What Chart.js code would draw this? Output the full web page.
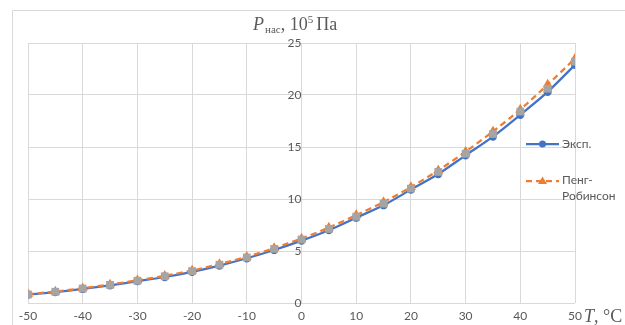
<!DOCTYPE html>
<html><head><meta charset="utf-8">
<script src="https://cdn.jsdelivr.net/npm/chart.js@4"></script>
<style>html,body{margin:0;padding:0;background:#fff;}#wrap{width:625px;height:325px;position:relative;}</style>
</head><body><div id="wrap"><canvas id="c" width="625" height="325"></canvas></div>
<script>
const temps = [-50,-45,-40,-35,-30,-25,-20,-15,-10,-5,0,5,10,15,20,25,30,35,40,45,50];
const expValues = [0.8,1.05,1.35,1.7,2.1,2.5,3.0,3.6,4.3,5.1,6.0,7.0,8.2,9.4,10.9,12.4,14.2,16.0,18.1,20.3,22.9];
const prValues  = [0.85,1.1,1.42,1.78,2.18,2.62,3.12,3.74,4.45,5.28,6.2,7.25,8.45,9.7,11.15,12.75,14.55,16.5,18.6,21.0,23.5];
const markValues= [0.82,1.08,1.39,1.74,2.14,2.57,3.07,3.68,4.38,5.2,6.1,7.12,8.3,9.55,11.0,12.6,14.35,16.25,18.4,20.6,23.2];
const xTicks = [-50,-40,-30,-20,-10,0,10,20,30,40,50];
const yTicks = [0,5,10,15,20,25];
const seriesNames = ['Эксп.', 'Пенг-Робинсон'];

const BLUE='#4472C4', ORANGE='#ED7D31', GRAY='#A5A5A5', TXT='#595959', GRID='#D9D9D9';
const toPts = v => temps.map((t,i)=>({x:t,y:v[i]}));

const deco = {
  id:'deco',
  beforeDraw(chart){
    const ctx=chart.ctx;
    ctx.save();
    ctx.strokeStyle=GRID; ctx.lineWidth=1;
    ctx.beginPath(); ctx.moveTo(12.5,325); ctx.lineTo(12.5,10.5); ctx.lineTo(625,10.5); ctx.stroke();
    ctx.restore();
  },
  afterDraw(chart){
    const ctx=chart.ctx;
    ctx.save();
    ctx.fillStyle=TXT; ctx.textBaseline='alphabetic'; ctx.textAlign='left';
    let x=253, y=30;
    ctx.font='italic 18px "Liberation Serif"'; ctx.fillText('P',x,y); x+=ctx.measureText('P').width+1;
    ctx.font='11px "Liberation Serif"'; ctx.fillText('нас',x,y+3); x+=ctx.measureText('нас').width;
    ctx.font='18px "Liberation Serif"'; ctx.fillText(', 10',x,y); x+=ctx.measureText(', 10').width;
    ctx.font='11px "Liberation Serif"'; ctx.fillText('5',x,y-7); x+=ctx.measureText('5').width+3;
    ctx.font='18px "Liberation Serif"'; ctx.fillText('Па',x,y);
    x=584; y=322;
    ctx.font='italic 18px "Liberation Serif"'; ctx.fillText('T',x,y); x+=ctx.measureText('T').width;
    ctx.font='18px "Liberation Serif"'; ctx.fillText(', °C',x,y);
    ctx.lineWidth=2.25;
    ctx.strokeStyle=BLUE; ctx.beginPath(); ctx.moveTo(526,144); ctx.lineTo(559,144); ctx.stroke();
    ctx.fillStyle=BLUE; ctx.beginPath(); ctx.arc(542.5,144,3.5,0,Math.PI*2); ctx.fill();
    ctx.strokeStyle=ORANGE; ctx.setLineDash([6,4]); ctx.beginPath(); ctx.moveTo(526,181); ctx.lineTo(559,181); ctx.stroke();
    ctx.setLineDash([]);
    ctx.fillStyle=ORANGE; ctx.beginPath(); ctx.moveTo(542.5,176.5); ctx.lineTo(547,184); ctx.lineTo(538,184); ctx.closePath(); ctx.fill();
    ctx.fillStyle=TXT; ctx.font='12px Lato'; ctx.textBaseline='middle';
    ctx.fillText(seriesNames[0],562,144);
    ctx.fillText('Пенг-',562,180);
    ctx.fillText('Робинсон',562,196);
    ctx.restore();
  }
};

new Chart(document.getElementById('c'),{
  type:'line',
  data:{datasets:[
    {label:'marks',data:toPts(markValues),showLine:false,pointStyle:'rect',pointRadius:5.5,pointBackgroundColor:GRAY,pointBorderColor:GRAY,pointBorderWidth:0,order:0},
    {label:seriesNames[1],data:toPts(prValues),borderColor:ORANGE,borderWidth:2.25,borderDash:[6,4],pointStyle:'triangle',pointRadius:3.5,pointBackgroundColor:ORANGE,pointBorderColor:ORANGE,order:1,tension:0.3},
    {label:seriesNames[0],data:toPts(expValues),borderColor:BLUE,borderWidth:2.25,pointStyle:'circle',pointRadius:3,pointBackgroundColor:BLUE,pointBorderColor:BLUE,order:2,tension:0.3}
  ]},
  options:{
    responsive:false,animation:false,
    layout:{padding:{left:28,right:50,top:43,bottom:2}},
    plugins:{legend:{display:false},tooltip:{enabled:false},title:{display:false}},
    scales:{
      x:{type:'linear',min:-50,max:50,afterBuildTicks:s=>{s.ticks=xTicks.map(v=>({value:v}));},
        afterFit:s=>{s.height=20;},
        grid:{color:GRID,drawTicks:false},border:{display:false},
        ticks:{color:TXT,font:{family:'Lato',size:12},padding:6,maxRotation:0}},
      y:{type:'linear',min:0,max:25,position:{x:0},afterBuildTicks:s=>{s.ticks=yTicks.map(v=>({value:v}));},
        grid:{color:GRID,drawTicks:false},border:{display:false},
        ticks:{color:TXT,font:{family:'Lato',size:12},padding:11}}
    }
  },
  plugins:[deco]
});
</script></body></html>
